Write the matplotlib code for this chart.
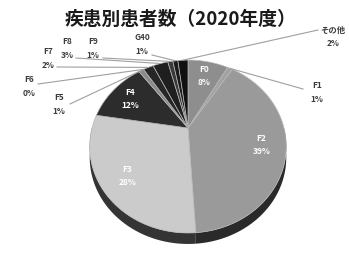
import numpy as np
import matplotlib.pyplot as plt

plt.rcParams['font.family'] = ['Noto Sans CJK JP', 'DejaVu Sans']

# データ（%）
categories = ['F0', 'F1', 'F2', 'F3', 'F4', 'F5', 'F6', 'F7', 'F8', 'F9', 'G40', 'その他']
percents = [8, 1, 39, 28, 12, 1, 0, 2, 3, 1, 1, 2]
top_colors = ['#8e8e8e', '#a2a2a2', '#9a9a9a', '#cbcbcb', '#2c2c2c', '#8a8a8a',
              '#606060', '#262626', '#1f1f1f', '#3a3a3a', '#1c1c1c', '#111111']
side_colors = ['#555555', '#6a6a6a', '#2a2a2a', '#343434', '#151515', '#444444',
               '#333333', '#151515', '#111111', '#1a1a1a', '#0e0e0e', '#080808']
inside = ['F0', 'F2', 'F3', 'F4']
# 外側ラベルの位置 (x, y) ピクセル
outside_pos = {'F1': (317, 86), 'F5': (59, 98), 'F6': (29, 79), 'F7': (48, 52),
               'F8': (67, 41), 'F9': (93, 41), 'G40': (142, 37), 'その他': (333, 30)}
leader_end = {'F1': (303, 89), 'F5': (70, 104), 'F6': (38, 84), 'F7': (57, 67),
              'F8': (76, 58), 'F9': (103, 58), 'G40': (152, 55), 'その他': (318, 30)}

# 3Dっぽい透視変換
cx, cy = 188, 128
A, B, p = 82.5, 96, 0.214
depth = 11


def proj(r, th):
    u = r * np.sin(th)
    v = -r * np.cos(th)
    d = 1 - p * v
    return cx + B * u / d, cy + A * v / d


fig = plt.figure(figsize=(3.49, 2.54), dpi=100)
ax = fig.add_axes([0, 0, 1, 1])
ax.set_xlim(0, 349)
ax.set_ylim(254, 0)
ax.axis('off')

total = sum(percents)
bounds = np.concatenate([[0], np.cumsum(percents)]) / total * 2 * np.pi

# 側面
for i in range(len(categories)):
    a0 = max(bounds[i], np.pi / 2)
    a1 = min(bounds[i + 1], 3 * np.pi / 2)
    if a1 <= a0:
        continue
    th = np.linspace(a0, a1, 60)
    xs, ys = proj(1, th)
    px = np.concatenate([xs, xs[::-1]])
    py = np.concatenate([ys, ys[::-1] + depth])
    ax.fill(px, py, color=side_colors[i], lw=0)

# 上面
for i in range(len(categories)):
    if percents[i] == 0:
        continue
    th = np.linspace(bounds[i], bounds[i + 1], 80)
    xs, ys = proj(1, th)
    ax.fill(np.concatenate([[cx], xs]), np.concatenate([[cy], ys]),
            facecolor=top_colors[i], edgecolor='#b8b8b8', lw=0.5)

# ラベル
for i, name in enumerate(categories):
    mid = (bounds[i] + bounds[i + 1]) / 2
    if name in inside:
        x, y = proj(0.76, mid)
        ax.text(x, y - 6, name, color='white', fontsize=6, fontweight='bold',
                ha='center', va='center')
        ax.text(x, y + 7, f'{percents[i]}%', color='white', fontsize=6,
                fontweight='bold', ha='center', va='center')
    else:
        x0, y0 = proj(1, mid)
        x1, y1 = leader_end[name]
        ax.plot([x0, x1], [y0, y1], color='#a0a0a0', lw=0.8)
        lx, ly = outside_pos[name]
        ax.text(lx, ly, name, color='#3c3c3c', fontsize=6, fontweight='bold',
                ha='center', va='center')
        ax.text(lx, ly + 14, f'{percents[i]}%', color='#3c3c3c', fontsize=6,
                fontweight='bold', ha='center', va='center')

ax.text(181, 19, '疾患別患者数（2020年度）', fontsize=13.5, fontweight='bold',
        color='#1a1a1a', ha='center', va='center')

fig.savefig('out.png', dpi=100)
